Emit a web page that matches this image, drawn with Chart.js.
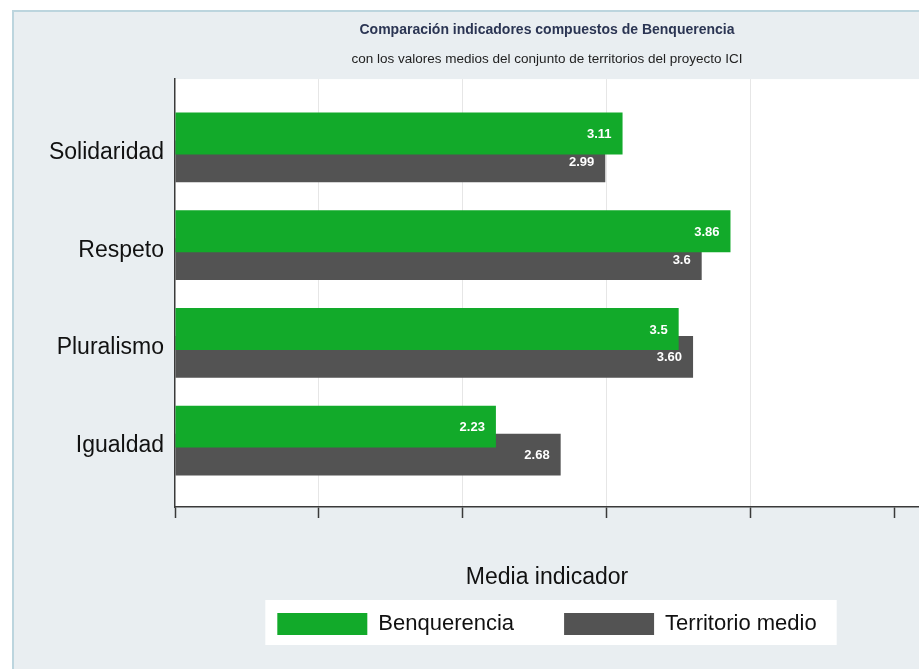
<!DOCTYPE html>
<html lang="es">
<head>
<meta charset="UTF-8">
<title>Comparación indicadores compuestos de Benquerencia</title>
<script src="https://cdn.jsdelivr.net/npm/chart.js"></script>
<style>
    body { margin: 0; padding: 0; background: #fff; }
    #wrap { width: 919px; height: 669px; }
</style>
</head>
<body>
<div id="wrap"><canvas id="chart" width="919" height="669"></canvas></div>
<script>
    // Data
    const categories = ['Solidaridad', 'Respeto', 'Pluralismo', 'Igualdad'];
    const benquerencia = [3.11, 3.86, 3.5, 2.23];
    const territorioMedio = [2.99, 3.66, 3.6, 2.68];
    const benquerenciaLabels = ['3.11', '3.86', '3.5', '2.23'];
    const territorioLabels = ['2.99', '3.6', '3.60', '2.68'];

    const FONT = "'Liberation Sans', Arial, Helvetica, sans-serif";
    const GREEN = '#12aa2a';
    const DARK = '#535353';

    // panel background, plot background and legend box
    const backdrop = {
        id: 'backdrop',
        beforeDraw(chart) {
            const { ctx, chartArea: a } = chart;
            ctx.save();
            ctx.fillStyle = '#ffffff';
            ctx.fillRect(0, 0, chart.width, chart.height);
            ctx.fillStyle = '#e9eef1';
            ctx.fillRect(12, 10, chart.width - 12, chart.height - 10);
            ctx.strokeStyle = '#bcd5de';
            ctx.lineWidth = 2;
            ctx.beginPath();
            ctx.moveTo(13, chart.height);
            ctx.lineTo(13, 11);
            ctx.lineTo(chart.width, 11);
            ctx.stroke();
            ctx.fillStyle = '#ffffff';
            ctx.fillRect(a.left, a.top, a.right - a.left, a.bottom - a.top);

            const boxes = chart.legend && chart.legend.legendHitBoxes;
            if (boxes && boxes.length) {
                const first = boxes[0], last = boxes[boxes.length - 1];
                const x0 = first.left - 12;
                const x1 = last.left + last.width + 20;
                ctx.fillRect(x0, first.top - 13, x1 - x0, first.height + 23);
            }
            ctx.restore();
        }
    };

    // value labels inside the bar ends
    const valueLabels = {
        id: 'valueLabels',
        afterDatasetsDraw(chart) {
            const { ctx } = chart;
            const texts = [benquerenciaLabels, territorioLabels];
            ctx.save();
            ctx.font = 'bold 13px ' + FONT;
            ctx.fillStyle = '#ffffff';
            ctx.textAlign = 'right';
            ctx.textBaseline = 'middle';
            [1, 0].forEach(d => {
                chart.getDatasetMeta(d).data.forEach((bar, i) => {
                    ctx.fillText(texts[d][i], bar.x - 11, bar.y + 1);
                });
            });
            ctx.restore();
        }
    };

    const ctx = document.getElementById('chart').getContext('2d');
    new Chart(ctx, {
        type: 'bar',
        data: {
            datasets: [
                {
                    label: 'Benquerencia',
                    data: categories.map((c, i) => ({ x: benquerencia[i], y: i + 1 })),
                    backgroundColor: GREEN,
                    borderWidth: 0
                },
                {
                    label: 'Territorio medio',
                    data: categories.map((c, i) => ({ x: territorioMedio[i], y: i + 1 })),
                    backgroundColor: DARK,
                    borderWidth: 0
                }
            ]
        },
        options: {
            responsive: false,
            animation: false,
            indexAxis: 'y',
            categoryPercentage: 0.5714,
            barPercentage: 1.5,
            layout: { padding: { left: 0, right: 0, top: 0, bottom: 24 } },
            scales: {
                x: {
                    min: 0,
                    max: 5.17,
                    ticks: { display: false, stepSize: 1, includeBounds: false },
                    grid: {
                        color: c => (c.tick && (c.tick.value === 0 || c.tick.value === 5)) ? 'rgba(0,0,0,0)' : '#e6e6e6',
                        tickColor: '#3a3a3a',
                        tickLength: 11,
                        tickWidth: 1.5
                    },
                    border: { color: '#3a3a3a', width: 1.5 },
                    title: {
                        display: true,
                        text: 'Media indicador',
                        color: '#111',
                        font: { family: FONT, size: 23 },
                        padding: { top: 46.2, bottom: -28.8 }
                    }
                },
                y: {
                    type: 'linear',
                    reverse: true,
                    offset: false,
                    min: 0.301,
                    max: 4.679,
                    afterBuildTicks: s => { s.ticks = categories.map((c, i) => ({ value: i + 1 })); },
                    afterFit: s => { s.width = 175; },
                    ticks: {
                        callback: v => categories[v - 1],
                        color: '#111',
                        font: { family: FONT, size: 23 },
                        padding: 11,
                        labelOffset: 5
                    },
                    grid: { display: false, drawTicks: false, offset: false },
                    border: { color: '#3a3a3a', width: 1.5 }
                }
            },
            plugins: {
                title: {
                    display: true,
                    fullSize: false,
                    text: 'Comparación indicadores compuestos de Benquerencia',
                    color: '#2b3553',
                    font: { family: FONT, size: 14, weight: 'bold' },
                    padding: { top: 21.6, bottom: 12.6 }
                },
                subtitle: {
                    display: true,
                    fullSize: false,
                    text: 'con los valores medios del conjunto de territorios del proyecto ICI',
                    color: '#222',
                    font: { family: FONT, size: 13.5 },
                    padding: { top: 0, bottom: 11.9 }
                },
                legend: {
                    position: 'bottom',
                    fullSize: false,
                    labels: {
                        boxWidth: 90,
                        boxHeight: 22,
                        padding: 50,
                        color: '#111',
                        font: { family: FONT, size: 22 }
                    }
                },
                tooltip: { enabled: false }
            }
        },
        plugins: [backdrop, valueLabels]
    });
</script>
</body>
</html>
